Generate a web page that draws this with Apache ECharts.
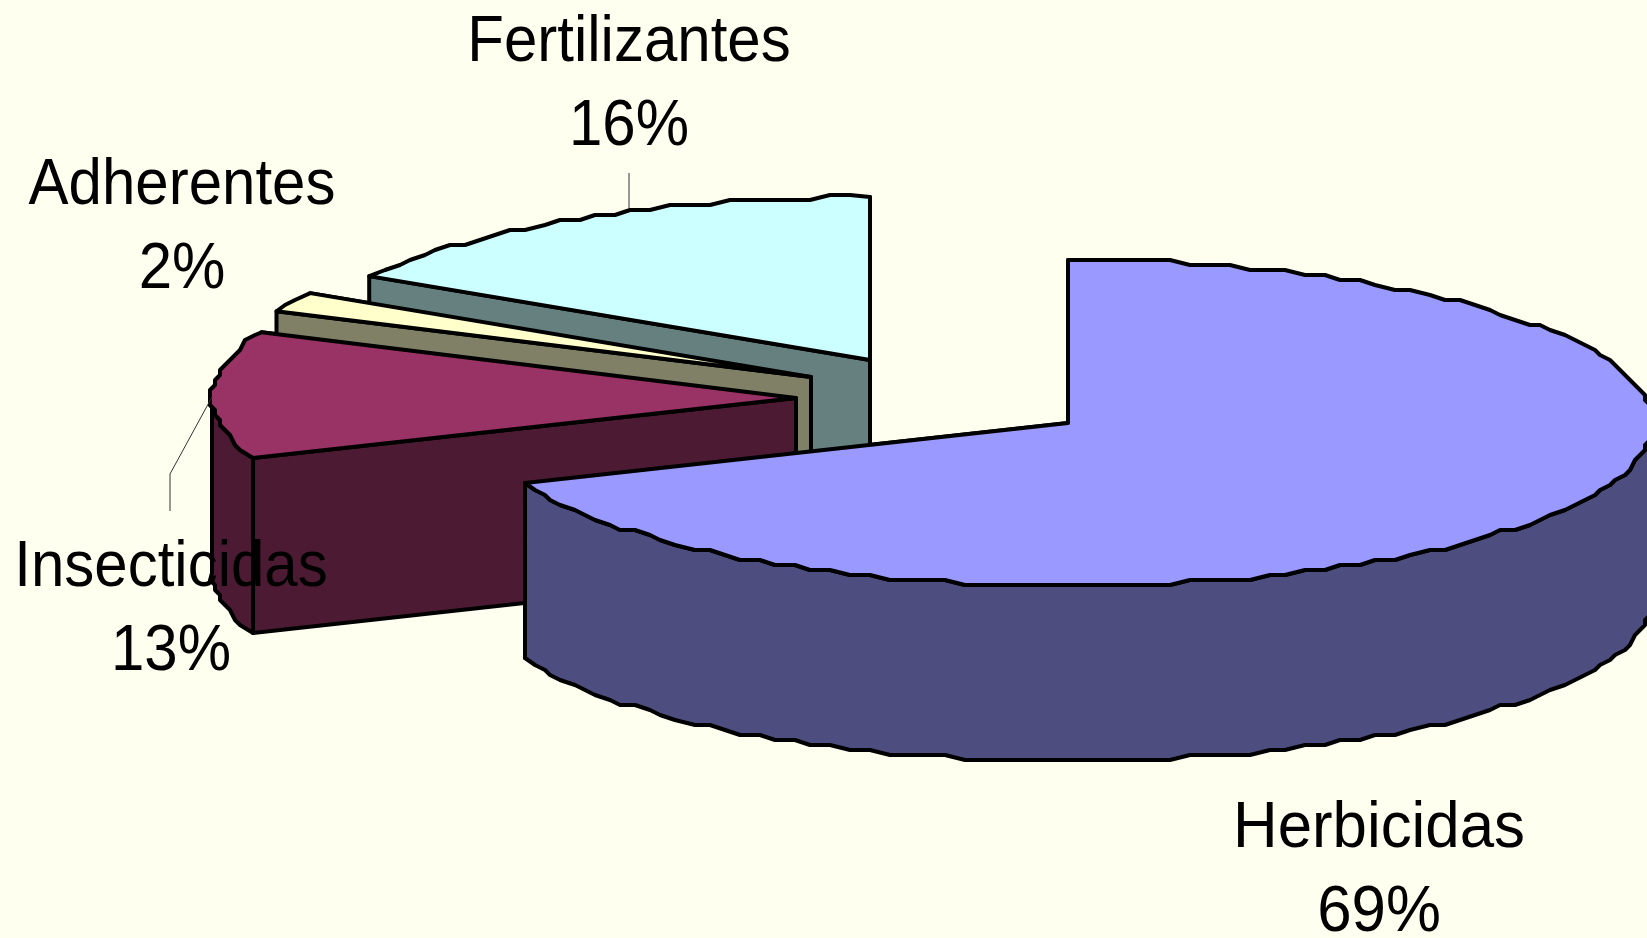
<!DOCTYPE html>
<html>
<head>
<meta charset="utf-8">
<title>Pie</title>
<style>
	html, body { margin: 0; padding: 0; background: #FFFFF0; }
	#chart { width: 1647px; height: 938px; }
</style>
<script src="https://cdn.jsdelivr.net/npm/echarts@6/dist/echarts.min.js"></script>
</head>
<body>
<div id="chart"></div>
<script>
	// valores, en sentido horario desde las 12
	var categories = ['Herbicidas', 'Insecticidas', 'Adherentes', 'Fertilizantes'];
	var values = [69, 12.6, 2, 16.4];
	var topColors = ['#9999FF', '#993366', '#FFFFCC', '#CCFFFF'];
	var sideColors = ['#4D4D80', '#4D1A33', '#808066', '#668080'];

	// layout, en pixeles
	var apexes = [[1068, 423], [796, 398], [811, 377], [870, 360]];
	var labelCenters = [[1379, 867], [171, 606], [182, 224], [629, 81]];
	var labelStretch = [1.03, 1, 1, 1];
	var leaderLines = [
		[[629, 173], [629, 208]],
		[[170, 511], [170, 474], [212, 397]]
	];
	var RX = 584, RY = 163, DEPTH = 175, JAG = 5;

	var total = values.reduce(function (a, b) { return a + b; }, 0);
	var startAngles = [];
	var acc = 0;
	values.forEach(function (v) {
		startAngles.push(acc / total * 360);
		acc += v;
	});

	// angulo en grados desde las 12, horario, proyectado en la elipse
	function rimPoint(apex, deg, dy) {
		var t = deg * Math.PI / 180;
		return [apex[0] + RX * Math.sin(t), apex[1] - RY * Math.cos(t) + dy];
	}

	// el original tiene el borde escalonado
	function snap(p) {
		return [Math.round(p[0] / JAG) * JAG, Math.round(p[1] / JAG) * JAG];
	}

	function rimArc(apex, from, to, dy) {
		var pts = [rimPoint(apex, from, dy)];
		for (var d = Math.ceil(from / 2) * 2 + 2; d < to - 1; d += 2) {
			pts.push(snap(rimPoint(apex, d, dy)));
		}
		pts.push(rimPoint(apex, to, dy));
		return pts;
	}

	function face(points, color, z) {
		return {
			type: 'polygon',
			z2: z,
			shape: { points: points },
			style: { fill: color, stroke: '#000', lineWidth: 4, lineJoin: 'round' }
		};
	}

	function cutFace(apex, deg, color, z) {
		var a = rimPoint(apex, deg, 0);
		var b = rimPoint(apex, deg, DEPTH);
		return face([a, apex, [apex[0], apex[1] + DEPTH], b], color, z);
	}

	function renderSlice(params, api) {
		var i = api.value(0);
		var apex = apexes[i];
		var from = startAngles[i];
		var to = from + values[i] / total * 360;
		var children = [
			cutFace(apex, to, sideColors[i], 1),
			cutFace(apex, from, sideColors[i], 2)
		];
		var wFrom = Math.max(from, 90), wTo = Math.min(to, 270);
		if (wFrom < wTo) {
			var upper = rimArc(apex, wFrom, wTo, 0);
			var lower = rimArc(apex, wFrom, wTo, DEPTH).reverse();
			children.push(face(upper.concat(lower), sideColors[i], 3));
		}
		children.push(face([apex].concat(rimArc(apex, from, to, 0)), topColors[i], 4));
		return { type: 'group', children: children };
	}

	function renderLabel(params, api) {
		var i = api.value(0);
		return {
			type: 'text',
			x: labelCenters[i][0],
			y: labelCenters[i][1] + 4,
			scaleX: labelStretch[i],
			scaleY: 1.08,
			style: {
				text: categories[i] + '\n' + Math.round(values[i] / total * 100) + '%',
				fill: '#000',
				font: '60px "Liberation Sans", Arial, sans-serif',
				lineHeight: 78,
				align: 'center',
				verticalAlign: 'middle'
			}
		};
	}

	var chart = echarts.init(document.getElementById('chart'));

	chart.setOption({
		animation: false,
		backgroundColor: '#FFFFF0',
		series: [{
			// de atras hacia adelante
			type: 'custom',
			coordinateSystem: 'none',
			silent: true,
			z: 2,
			data: [[3], [2], [1], [0]],
			renderItem: renderSlice
		}, {
			type: 'custom',
			coordinateSystem: 'none',
			silent: true,
			z: 4,
			data: [[0], [1], [2], [3]],
			renderItem: renderLabel
		}],
		graphic: leaderLines.map(function (pts) {
			return {
				type: 'polyline',
				z: 3,
				silent: true,
				shape: { points: pts },
				style: { fill: null, stroke: '#333', lineWidth: 1 }
			};
		})
	});
</script>
</body>
</html>
